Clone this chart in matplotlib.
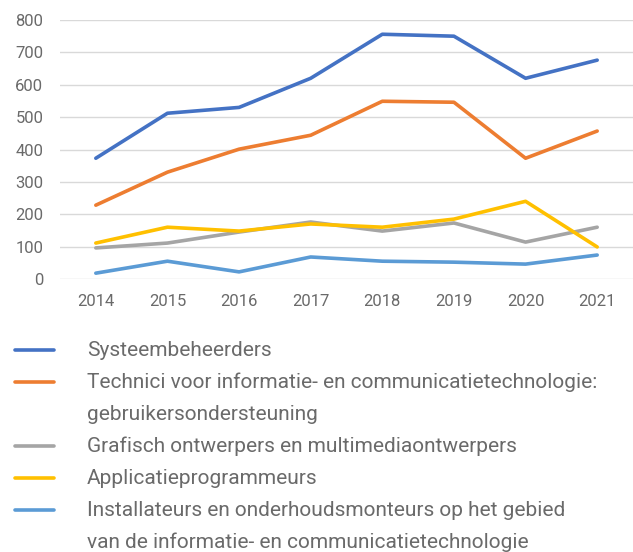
import numpy as np
import matplotlib
matplotlib.use('Agg')
import matplotlib.pyplot as plt
from matplotlib.lines import Line2D

plt.rcParams['font.family'] = ['Roboto', 'DejaVu Sans']

years = [2014, 2015, 2016, 2017, 2018, 2019, 2020, 2021]
systeembeheerders = [373, 512, 530, 620, 756, 750, 620, 676]
technici_ict = [228, 330, 401, 444, 549, 546, 373, 457]
grafisch = [96, 111, 145, 176, 148, 173, 114, 160]
applicatie = [111, 160, 148, 170, 160, 185, 240, 99]
installateurs = [18, 55, 22, 68, 55, 52, 46, 74]

labels = ['Systeembeheerders',
          'Technici voor informatie- en communicatietechnologie:\ngebruikersondersteuning',
          'Grafisch ontwerpers en multimediaontwerpers',
          'Applicatieprogrammeurs',
          'Installateurs en onderhoudsmonteurs op het gebied\nvan de informatie- en communicatietechnologie']
colors = ['#4472C4', '#ED7D31', '#A5A5A5', '#FFC000', '#5B9BD5']
series = [systeembeheerders, technici_ict, grafisch, applicatie, installateurs]

txtcol = '#6A6A6A'
W, H = 633, 552
fig = plt.figure(figsize=(W/100, H/100), dpi=100)
ax = fig.add_axes([60/W, (H-279)/H, (633-60)/W, (279-20)/H])

for vals, c in zip(series, colors):
    ax.plot(years, vals, color=c, lw=2.6, solid_capstyle='round')

ax.set_xlim(2013.5, 2021.5)
ax.set_ylim(0, 800)
ax.set_yticks(range(0, 801, 100))
ax.set_xticks(years)
ax.grid(axis='y', color='#D9D9D9', lw=1)
ax.set_axisbelow(True)
for s in ax.spines.values():
    s.set_visible(False)
ax.tick_params(length=0, labelsize=12, colors=txtcol)
ax.tick_params(axis='x', pad=11)
ax.tick_params(axis='y', pad=12)

# legend drawn by hand below the plot, one text row every 32 px
row = 0
for lab, c in zip(labels, colors):
    yf = (H - (350 + 32 * row)) / H
    fig.add_artist(Line2D([15/W, 54/W], [yf, yf], color=c, lw=2.6,
                          solid_capstyle='round', transform=fig.transFigure))
    for part in lab.split('\n'):
        yt = (H - (350 + 32 * row)) / H
        fig.text(87/W, yt, part, color=txtcol, fontsize=15, va='center')
        row += 1

fig.savefig('out.png', dpi=100)
